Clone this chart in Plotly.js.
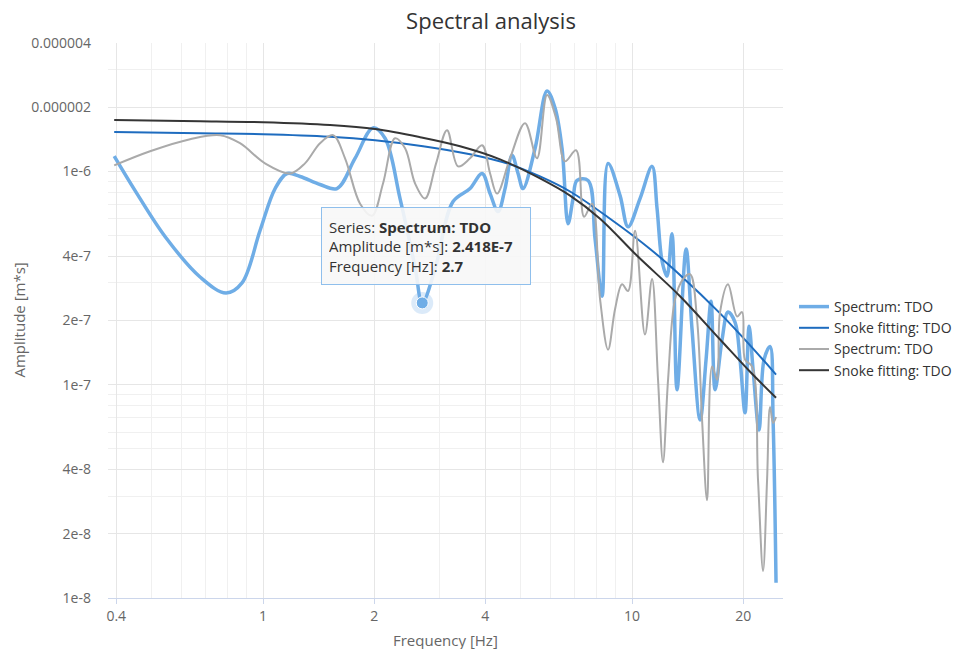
<!DOCTYPE html>
<html>
<head>
<meta charset="utf-8">
<script src="https://cdn.plot.ly/plotly-3.0.1.min.js"></script>
<style>
  html, body { margin: 0; padding: 0; background: #ffffff; }
  #chart { width: 964px; height: 649px; }
</style>
</head>
<body>
<div id="chart"></div>
<script>
// ---- Data ----
const seriesNames = ["Spectrum: TDO", "Snoke fitting: TDO", "Spectrum: TDO", "Snoke fitting: TDO"];

// Spectrum 1 (light blue)
const freqSpec1 = [0.395, 0.450, 0.543, 0.675, 0.794, 0.877, 0.981, 1.078, 1.162, 1.26, 1.427, 1.586, 1.775, 1.987, 2.141, 2.351, 2.582, 2.7, 2.925, 3.273, 3.639, 3.923, 4.124, 4.334, 4.527, 4.729, 4.91, 5.064, 5.459, 5.884, 6.185, 6.461, 6.707, 6.92, 7.095, 7.6, 7.939, 8.294, 8.61, 9.279, 9.754, 10.51, 11.33, 11.69, 12.06, 12.44, 12.83, 13.24, 14.01, 14.54, 15.29, 15.87, 16.37, 16.79, 17.54, 18.2, 19.02, 19.62, 20.24, 20.76, 21.28, 22.09, 22.79, 23.66, 24.11, 24.56];
const ampSpec1 = [1.18e-6, 8.13e-7, 4.94e-7, 3.20e-7, 2.69e-7, 3.00e-7, 5.27e-7, 8.31e-7, 9.78e-7, 9.47e-7, 8.68e-7, 8.31e-7, 1.15e-6, 1.60e-6, 1.43e-6, 7.46e-7, 3.56e-7, 2.418e-7, 3.49e-7, 7.22e-7, 8.31e-7, 9.78e-7, 7.87e-7, 6.48e-7, 8.31e-7, 1.19e-6, 9.78e-7, 8.31e-7, 1.28e-6, 2.385e-6, 1.98e-6, 1.28e-6, 5.68e-7, 7.46e-7, 9.07e-7, 9.07e-7, 4.83e-7, 2.60e-7, 1.09e-6, 7.70e-7, 5.50e-7, 7.46e-7, 1.056e-6, 6.69e-7, 3.80e-7, 3.23e-7, 5.10e-7, 9.47e-8, 4.33e-7, 1.82e-7, 6.84e-8, 1.31e-7, 2.46e-7, 9.47e-8, 1.63e-7, 2.19e-7, 1.96e-7, 1.31e-7, 7.38e-8, 1.88e-7, 1.18e-7, 6.13e-8, 1.31e-7, 1.51e-7, 6.84e-8, 1.18e-8];

// Snoke fitting 1 (dark blue)
const freqFit1 = [0.395, 0.675, 1.0, 1.519, 2.012, 2.714, 3.639, 4.67, 5.632, 6.792, 8.718, 11.19, 13.49, 17.32, 20.89, 24.56];
const ampFit1 = [1.53e-6, 1.51e-6, 1.495e-6, 1.455e-6, 1.40e-6, 1.312e-6, 1.203e-6, 1.079e-6, 9.47e-7, 8.05e-7, 6.00e-7, 4.33e-7, 3.27e-7, 2.16e-7, 1.53e-7, 1.115e-7];

// Spectrum 2 (gray)
const freqSpec2 = [0.395, 0.494, 0.634, 0.765, 0.866, 1.012, 1.184, 1.299, 1.427, 1.548, 1.668, 1.832, 1.974, 2.114, 2.279, 2.426, 2.582, 2.748, 2.944, 3.152, 3.377, 3.639, 3.923, 4.124, 4.306, 4.67, 5.129, 5.527, 5.884, 6.223, 6.583, 7.051, 7.413, 7.792, 8.191, 8.61, 8.993, 9.396, 9.754, 10.19, 10.84, 11.33, 11.76, 12.13, 12.52, 13.08, 13.75, 14.36, 15.0, 15.48, 15.97, 16.48, 17.0, 17.32, 18.2, 19.26, 19.87, 20.24, 21.15, 21.95, 22.65, 23.22, 23.66, 24.11, 24.56];
const ampSpec2 = [1.067e-6, 1.243e-6, 1.416e-6, 1.479e-6, 1.356e-6, 1.091e-6, 9.78e-7, 1.091e-6, 1.356e-6, 1.479e-6, 1.152e-6, 7.06e-7, 6.20e-7, 8.78e-7, 1.431e-6, 1.284e-6, 8.78e-7, 7.46e-7, 1.091e-6, 1.561e-6, 1.056e-6, 1.152e-6, 1.326e-6, 9.78e-7, 7.87e-7, 1.152e-6, 1.684e-6, 1.152e-6, 2.283e-6, 1.778e-6, 1.115e-6, 1.256e-6, 6.13e-7, 7.06e-7, 2.52e-7, 1.46e-7, 2.26e-7, 2.96e-7, 2.75e-7, 5.27e-7, 1.72e-7, 3.13e-7, 1.056e-7, 4.33e-8, 1.056e-7, 2.52e-7, 3.13e-7, 3.30e-7, 2.03e-7, 6.84e-8, 2.87e-8, 1.216e-7, 1.056e-7, 2.19e-7, 2.96e-7, 2.09e-7, 2.19e-7, 1.31e-7, 1.216e-7, 3.56e-8, 1.34e-8, 3.56e-8, 7.87e-8, 6.62e-8, 7.06e-8];

// Snoke fitting 2 (dark gray)
const freqFit2 = [0.395, 0.675, 1.0, 1.519, 2.012, 2.664, 3.419, 4.388, 5.632, 6.792, 8.191, 10.32, 13.49, 17.32, 20.89, 24.56];
const ampFit2 = [1.74e-6, 1.72e-6, 1.70e-6, 1.65e-6, 1.58e-6, 1.447e-6, 1.312e-6, 1.139e-6, 9.27e-7, 7.70e-7, 6.00e-7, 4.02e-7, 2.60e-7, 1.63e-7, 1.15e-7, 8.68e-8];

// Hovered point (tooltip)
const hoverFreq = [2.7];
const hoverAmp = [2.418e-7];
const hoverAmpLabel = ["2.418E-7"];

// Axis ticks
const xTickVals = [0.4, 1, 2, 4, 10, 20];
const xTickText = ["0.4", "1", "2", "4", "10", "20"];
const xMinorVals = [0.5, 0.6, 0.7, 0.8, 0.9, 3, 5, 6, 7, 8, 9];
const yTickVals = [1e-8, 2e-8, 4e-8, 1e-7, 2e-7, 4e-7, 1e-6, 2e-6, 4e-6];
const yTickText = ["1e-8", "2e-8", "4e-8", "1e-7", "2e-7", "4e-7", "1e-6", "0.000002", "0.000004"];
const yMinorVals = [3e-8, 5e-8, 6e-8, 7e-8, 8e-8, 9e-8, 3e-7, 5e-7, 6e-7, 7e-7, 8e-7, 9e-7, 3e-6];

// ---- Styles ----
const FONT = '"Open Sans", "Noto Sans", sans-serif';
const cLight = '#6fade6';
const cDarkBlue = '#1e6cbf';
const cGray = '#aaaaaa';
const cBlack = '#353535';

const traces = [
  { x: freqSpec1, y: ampSpec1, name: seriesNames[0], type: 'scatter', mode: 'lines',
    line: { color: cLight, width: 3.5, shape: 'spline', smoothing: 1 } },
  { x: freqFit1, y: ampFit1, name: seriesNames[1], type: 'scatter', mode: 'lines',
    line: { color: cDarkBlue, width: 2, shape: 'spline', smoothing: 1 } },
  { x: freqSpec2, y: ampSpec2, name: seriesNames[2], type: 'scatter', mode: 'lines',
    line: { color: cGray, width: 2, shape: 'spline', smoothing: 1 } },
  { x: freqFit2, y: ampFit2, name: seriesNames[3], type: 'scatter', mode: 'lines',
    line: { color: cBlack, width: 2, shape: 'spline', smoothing: 1 } },
  { x: hoverFreq, y: hoverAmp, type: 'scatter', mode: 'markers', showlegend: false,
    marker: { size: 22, color: 'rgba(111,173,230,0.25)' } },
  { x: hoverFreq, y: hoverAmp, type: 'scatter', mode: 'markers', showlegend: false,
    marker: { size: 12, color: cLight, line: { color: '#ffffff', width: 1 } } }
];

const tipText = 'Series: <b>' + seriesNames[0] + '</b><br>' +
  'Amplitude [m*s]: <b>' + hoverAmpLabel[0] + '</b><br>' +
  'Frequency [Hz]: <b>' + hoverFreq[0] + '</b>';

const PL = 108, PR = 783, PT = 43, PB = 598;
const pw = PR - PL, ph = PB - PT;

const layout = {
  width: 964, height: 649,
  paper_bgcolor: '#ffffff', plot_bgcolor: '#ffffff',
  margin: { l: PL, r: 964 - PR, t: PT, b: 649 - PB, autoexpand: false },
  font: { family: FONT, color: '#666666', size: 14 },
  title: { text: 'Spectral analysis', x: 491 / 964, xref: 'container', xanchor: 'center',
           y: 1 - 21 / 649, yref: 'container', yanchor: 'middle',
           font: { family: FONT, size: 22, color: '#333333' } },
  xaxis: {
    type: 'log',
    range: [Math.log10(0.38), Math.log10(25.65)],
    tickmode: 'array', tickvals: xTickVals, ticktext: xTickText,
    ticks: 'outside', ticklen: 5, tickcolor: '#ccd6eb', tickwidth: 1,
    showgrid: true, gridcolor: '#e6e6e6', gridwidth: 1,
    minor: { tickmode: 'array', tickvals: xMinorVals, showgrid: true, gridcolor: '#f0f0f0', ticks: '' },
    showline: true, linecolor: '#ccd6eb', linewidth: 1,
    zeroline: false, automargin: false,
    tickfont: { family: FONT, size: 14, color: '#666666' }
  },
  yaxis: {
    type: 'log',
    range: [-8, Math.log10(4e-6)],
    tickmode: 'array', tickvals: yTickVals, ticktext: yTickText,
    ticks: '', ticklabelstandoff: 16,
    showgrid: true, gridcolor: '#e6e6e6', gridwidth: 1,
    minor: { tickmode: 'array', tickvals: yMinorVals, showgrid: true, gridcolor: '#f0f0f0', ticks: '' },
    showline: false, zeroline: false, automargin: false,
    tickfont: { family: FONT, size: 14, color: '#666666' }
  },
  legend: {
    xref: 'container', yref: 'container',
    x: 794 / 964, xanchor: 'left', y: 1 - 291 / 649, yanchor: 'top',
    font: { family: FONT, size: 14, color: '#333333' },
    bgcolor: 'rgba(0,0,0,0)', tracegroupgap: 0, itemwidth: 30
  },
  showlegend: true,
  hovermode: false,
  annotations: [
    {
      xref: 'paper', yref: 'paper',
      x: (321 - PL) / pw, y: 1 - (207 - PT) / ph,
      xanchor: 'left', yanchor: 'top',
      text: tipText, showarrow: false, align: 'left',
      width: 194, height: 62,
      font: { family: FONT, size: 15, color: '#333333' },
      bgcolor: 'rgba(247,247,247,0.9)', bordercolor: '#8fbfec', borderwidth: 1, borderpad: 7
    },
    {
      xref: 'paper', yref: 'paper',
      x: 0.5, y: -(640 - PB) / ph, xanchor: 'center', yanchor: 'middle',
      text: 'Frequency [Hz]', showarrow: false,
      font: { family: FONT, size: 15, color: '#666666' }
    },
    {
      xref: 'paper', yref: 'paper',
      x: (18 - PL) / pw, y: 0.5, xanchor: 'center', yanchor: 'middle', textangle: -90,
      text: 'Amplitude [m*s]', showarrow: false,
      font: { family: FONT, size: 15, color: '#666666' }
    }
  ]
};

Plotly.newPlot('chart', traces, layout, { displayModeBar: false, staticPlot: true });
</script>
</body>
</html>
